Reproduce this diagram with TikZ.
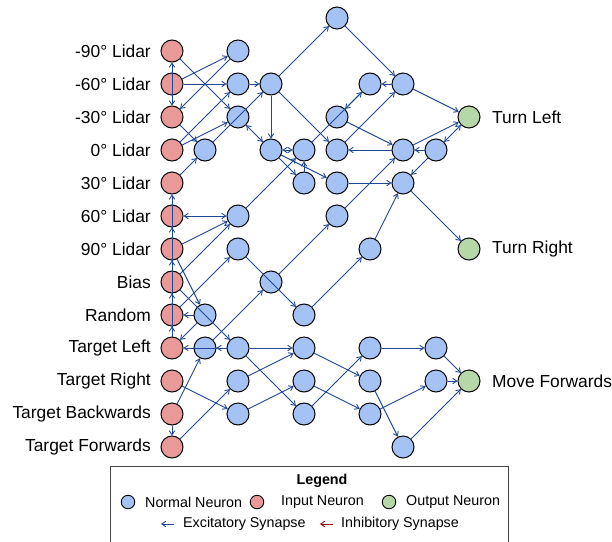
\documentclass[tikz,border=0pt]{standalone}
\usepackage{fontspec}
\setmainfont{Liberation Sans}
\usetikzlibrary{arrows.meta}
\definecolor{nblue}{HTML}{A4C2F4}
\definecolor{nred}{HTML}{EA9999}
\definecolor{ngreen}{HTML}{B6D7A8}
\definecolor{eblue}{RGB}{30,72,150}
\definecolor{ered}{HTML}{990000}
\definecolor{lborder}{RGB}{70,70,70}
\begin{document}
\begin{tikzpicture}[x=1pt,y=-1pt,
 neuron/.style={circle,draw=black,line width=1pt,minimum size=22pt,inner sep=0pt},
 normal/.style={neuron,fill=nblue},
 inp/.style={neuron,fill=nred},
 outp/.style={neuron,fill=ngreen},
 lbl/.style={font=\fontsize{17.4}{20}\selectfont,inner sep=0pt},
 legtext/.style={font=\fontsize{14.3}{16}\selectfont,inner sep=0pt,anchor=west},
 legdot/.style={circle,draw=black,line width=0.9pt,minimum size=13.5pt,inner sep=0pt},
 syn/.style={draw=eblue,line width=0.9pt,-{Straight Barb[length=4pt,width=5.5pt]}},
 bisyn/.style={draw=eblue,line width=0.9pt,{Straight Barb[length=4pt,width=5.5pt]}-{Straight Barb[length=4pt,width=5.5pt]}},
 isyn/.style={draw=ered,line width=0.9pt,-{Straight Barb[length=4pt,width=5.5pt]}}
]
\useasboundingbox (0,0) rectangle (612,541);

% input neurons
\node[inp] (im90) at (172,51) {};
\node[inp] (im60) at (172,84) {};
\node[inp] (im30) at (172,117) {};
\node[inp] (i0) at (172,150) {};
\node[inp] (i30) at (172,183) {};
\node[inp] (i60) at (172,216) {};
\node[inp] (i90) at (172,249) {};
\node[inp] (ib) at (172,282) {};
\node[inp] (ir) at (172,315) {};
\node[inp] (itl) at (172,348) {};
\node[inp] (itr) at (172,381) {};
\node[inp] (itb) at (172,414) {};
\node[inp] (itf) at (172,447) {};

% input labels
\node[lbl,anchor=east] (lm90) at (151,51) {-90° Lidar};
\node[lbl,anchor=east] (lm60) at (151,84) {-60° Lidar};
\node[lbl,anchor=east] (lm30) at (151,117) {-30° Lidar};
\node[lbl,anchor=east] (l0) at (151,150) {0° Lidar};
\node[lbl,anchor=east] (l30) at (151,183) {30° Lidar};
\node[lbl,anchor=east] (l60) at (151,216) {60° Lidar};
\node[lbl,anchor=east] (l90) at (151,249) {90° Lidar};
\node[lbl,anchor=east] (lb) at (151,282) {Bias};
\node[lbl,anchor=east] (lr) at (151,315) {Random};
\node[lbl,anchor=east] (ltl) at (151,348) {Target Left};
\node[lbl,anchor=east] (ltr) at (151,381) {Target Right};
\node[lbl,anchor=east] (ltb) at (151,414) {Target Backwards};
\node[lbl,anchor=east] (ltf) at (151,447) {Target Forwards};

% output neurons
\node[outp] (oL) at (469,117) {};
\node[outp] (oR) at (469,249) {};
\node[outp] (oF) at (469,381) {};
\node[lbl,anchor=west] (loL) at (492,117) {Turn Left};
\node[lbl,anchor=west] (loR) at (492,249) {Turn Right};
\node[lbl,anchor=west] (loF) at (492,381) {Move Forwards};

% normal neurons
\node[normal] (c5r0) at (337,18) {};
\node[normal] (c2r1) at (238,51) {};
\node[normal] (c2r2) at (238,84) {};
\node[normal] (c3r2) at (271,84) {};
\node[normal] (c6r2) at (370,84) {};
\node[normal] (c7r2) at (403,84) {};
\node[normal] (c2r3) at (238,117) {};
\node[normal] (c5r3) at (337,117) {};
\node[normal] (c1r4) at (205,150) {};
\node[normal] (c3r4) at (271,150) {};
\node[normal] (c4r4) at (304,150) {};
\node[normal] (c5r4) at (337,150) {};
\node[normal] (c7r4) at (403,150) {};
\node[normal] (c8r4) at (436,150) {};
\node[normal] (c4r5) at (304,183) {};
\node[normal] (c5r5) at (337,183) {};
\node[normal] (c7r5) at (403,183) {};
\node[normal] (c2r6) at (238,216) {};
\node[normal] (c5r6) at (337,216) {};
\node[normal] (c2r7) at (238,249) {};
\node[normal] (c6r7) at (370,249) {};
\node[normal] (c3r8) at (271,282) {};
\node[normal] (c1r9) at (205,315) {};
\node[normal] (c4r9) at (304,315) {};
\node[normal] (c1r10) at (205,348) {};
\node[normal] (c2r10) at (238,348) {};
\node[normal] (c4r10) at (304,348) {};
\node[normal] (c6r10) at (370,348) {};
\node[normal] (c8r10) at (436,348) {};
\node[normal] (c2r11) at (238,381) {};
\node[normal] (c4r11) at (304,381) {};
\node[normal] (c6r11) at (370,381) {};
\node[normal] (c8r11) at (436,381) {};
\node[normal] (c2r12) at (238,414) {};
\node[normal] (c4r12) at (304,414) {};
\node[normal] (c6r12) at (370,414) {};
\node[normal] (c7r13) at (403,447) {};

% synapses
\draw[syn] (im60) -- (c2r1);
\draw[syn] (im60) -- (c2r2);
\draw[syn] (im90) -- (c2r3);
\draw[syn] (c2r1) -- (im30);
\draw[bisyn] (im90) -- (im30);
\draw[syn] (i0) -- (c2r2);
\draw[syn] (i0) -- (c2r3);
\draw[syn] (im30) -- (c1r4);
\draw[syn] (i30) -- (c1r4);
\draw[syn] (c1r4) -- (c3r2);
\draw[syn] (c2r2) -- (c3r2);
\draw[syn] (c3r2) -- (c5r0);
\draw[syn] (c3r2) -- (c5r4);
\draw[syn] (c3r2) -- (c3r4);
\draw[bisyn] (c2r3) -- (c3r4);
\draw[bisyn] (c3r4) -- (c4r4);
\draw[syn] (c3r4) -- (c4r5);
\draw[syn] (c3r4) -- (c5r5);
\draw[syn] (c4r5) -- (c4r4);
\draw[syn] (c2r6) -- (c4r4);
\draw[syn] (c4r4) -- (c6r2);
\draw[syn] (c6r2) -- (c5r3);
\draw[syn] (c5r0) -- (c7r2);
\draw[syn] (c7r2) -- (c6r2);
\draw[syn] (c7r2) -- (oL);
\draw[syn] (c5r3) -- (c7r4);
\draw[syn] (c7r4) -- (c5r4);
\draw[syn] (c5r4) -- (c7r2);
\draw[syn] (c8r4) -- (c7r4);
\draw[syn] (c7r4) -- (oL);
\draw[bisyn] (c8r4) -- (oL);
\draw[syn] (c8r4) -- (c7r5);
\draw[syn] (c5r6) -- (c7r4);
\draw[syn] (c5r5) -- (c7r5);
\draw[syn] (c7r5) -- (oR);
\draw[syn] (c6r7) -- (c7r5);
\draw[syn] (c4r9) -- (c6r7);
\draw[syn] (c3r8) -- (c5r6);
\draw[syn] (c2r7) -- (c4r9);
\draw[bisyn] (i60) -- (c2r6);
\draw[syn] (i90) -- (c2r6);
\draw[syn] (ib) -- (c2r6);
\draw[syn] (i90) -- (c1r9);
\draw[syn] (ib) -- (c2r10);
\draw[syn] (ir) -- (c2r7);
\draw[syn] (c1r10) -- (c3r8);
\draw[syn] (c1r9) -- (ir);
\draw[syn] (c1r9) -- (itl);
\draw[syn] (itl) -- (ir);
\draw[syn] (itl) -- (ib);
\draw[syn] (itl) -- (i90);
\draw[syn] (itl) -- (i60);
\draw[syn] (itl) -- (i30);
\draw[syn] (c2r10) -- (itl);
\draw[syn] (c2r10) -- (c1r10);
\draw[syn] (c2r10) -- (c4r10);
\draw[syn] (c2r10) -- (c4r12);
\draw[syn] (c2r11) -- (c4r10);
\draw[syn] (itr) -- (c2r12);
\draw[syn] (c2r12) -- (c4r11);
\draw[syn] (itb) -- (c1r10);
\draw[syn] (itb) -- (itf);
\draw[syn] (itf) -- (c2r11);
\draw[syn] (c4r10) -- (c6r11);
\draw[syn] (c4r11) -- (c6r12);
\draw[syn] (c4r12) -- (c6r10);
\draw[syn] (c6r10) -- (c8r10);
\draw[syn] (c8r10) -- (oF);
\draw[syn] (c8r11) -- (oF);
\draw[syn] (c6r12) -- (c8r11);
\draw[syn] (c6r11) -- (c7r13);
\draw[syn] (c7r13) -- (oF);

% legend
\draw[lborder,line width=0.8pt] (110,545) -- (110,466) -- (508,466) -- (508,545);
\node[font=\bfseries\fontsize{14.3}{16}\selectfont,inner sep=0pt] (legtitle) at (322,481) {Legend};
\node[legdot,fill=nblue] (dn) at (128,502) {};
\node[legtext] (tn) at (145,502) {Normal Neuron};
\node[legdot,fill=nred] (di) at (257,502) {};
\node[legtext] (ti) at (281,502) {Input Neuron};
\node[legdot,fill=ngreen] (do) at (389,502) {};
\node[legtext] (to) at (406,502) {Output Neuron};
\coordinate (ea) at (174,524);
\coordinate (eb) at (161,524);
\draw[syn] (ea) -- (eb);
\node[legtext] (te) at (183,524) {Excitatory Synapse};
\coordinate (ia) at (333,524);
\coordinate (ib2) at (320,524);
\draw[isyn] (ia) -- (ib2);
\node[legtext] (tinh) at (341,524) {Inhibitory Synapse};
\end{tikzpicture}
\end{document}
